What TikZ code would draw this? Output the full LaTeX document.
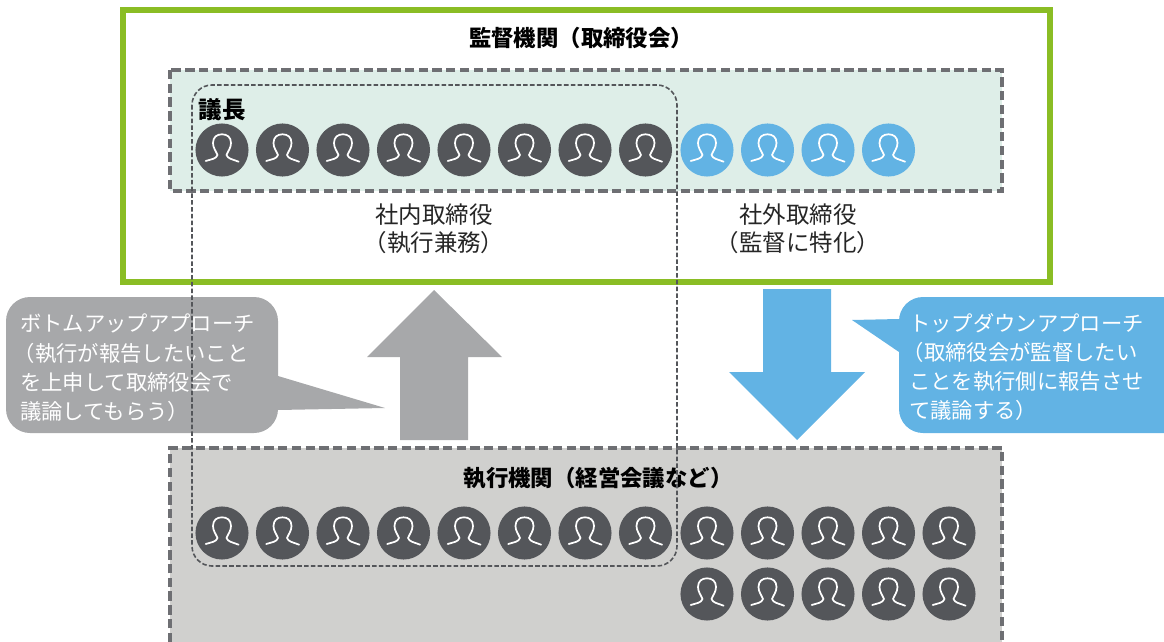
\documentclass[tikz,border=0pt]{standalone}
\usepackage{fontspec}
\setmainfont{Noto Sans CJK JP}
\definecolor{boardgreen}{HTML}{8ABD24}
\definecolor{boardfill}{HTML}{DEEEE8}
\definecolor{execfill}{HTML}{D0D0CE}
\definecolor{dashgray}{HTML}{54565A}
\definecolor{upgray}{HTML}{A7A8AA}
\definecolor{downblue}{HTML}{62B3E4}
\tikzset{
  dashbox/.style={draw=dashgray!85, line width=2.4pt, dash pattern=on 7pt off 3.3pt},
  darkhead/.style={circle, fill=dashgray, minimum size=39.8pt, inner sep=0pt},
  bluehead/.style={darkhead, fill=downblue},
  silhouette/.pic={
    \draw[white, line width=1.3pt, line cap=round, line join=round]
      (-16.3,11) .. controls (-10,9) and (-6,9) .. (-4.5,5)
      .. controls (-6,1) and (-9,-2) .. (-9,-7)
      .. controls (-9,-13) and (-5,-15.7) .. (0,-15.7)
      .. controls (5,-15.7) and (9,-13) .. (9,-7)
      .. controls (9,-2) and (6,1) .. (4.5,5)
      .. controls (6,9) and (10,9) .. (16.6,11.7);
  },
  heading/.style={font=\fontsize{16.8}{20}\selectfont\bfseries, inner sep=0pt},
  caption/.style={font=\fontsize{17.6}{21}\selectfont, align=center, inner sep=0pt, text=black!85},
  calloutext/.style={font=\fontsize{16}{21.8}\selectfont, align=left, text=white, inner sep=0pt, anchor=north west},
}
\begin{document}
\begin{tikzpicture}[x=0.75pt, y=-0.75pt]
  \useasboundingbox (0,0) rectangle (1164,642);
  % boxes
  \draw[boardgreen, line width=4.5pt, fill=white] (123,10) rectangle (1050,282);
  \fill[boardfill] (170,70) rectangle (1002,191);
  \draw[dashbox] (170,70) rectangle (1002,191);
  \fill[execfill] (170,448) rectangle (1002,642);
  \draw[dashbox] (170,642) -- (170,448) -- (1002,448) -- (1002,642);
  % arrows
  \fill[upgray] (434,290) -- (502,357) -- (468,357) -- (468,440) -- (400,440) -- (400,357) -- (367,357) -- cycle;
  \fill[downblue] (763,289) -- (831,289) -- (831,372) -- (865,372) -- (797,440) -- (729,372) -- (763,372) -- cycle;
  % callouts
  \fill[upgray, rounded corners=18pt] (6,297) rectangle (278,433);
  \fill[upgray] (278,376) -- (385,408) -- (278,410) -- cycle;
  \fill[downblue, rounded corners=18pt] (899,297) rectangle (1190,433);
  \fill[downblue] (899,319) -- (852,320) -- (899,352) -- cycle;
  \node[calloutext] (bottomup) at (20,314) {ボトムアップアプローチ\\\hspace*{-0.3em}（執行が報告したいこと\\を上申して取締役会で\\議論してもらう）};
  \node[calloutext] (topdown) at (909,313) {トップダウンアプローチ\\\hspace*{-0.3em}（取締役会が監督したい\\ことを執行側に報告させ\\て議論する）};
  % labels
  \node[heading] (board) at (581,38) {監督機関（取締役会）};
  \node[heading, text=black, font=\fontsize{17.6}{20}\selectfont\bfseries] (chair) at (222,110) {議長};
  \node[heading] (exec) at (598,478) {執行機関（経営会議など）};
  \node[caption] (inside) at (434,228.5) {社内取締役\\（執行兼務）};
  \node[caption] (outside) at (798,228.5) {社外取締役\\（監督に特化）};
  % people
  \foreach \i in {0,...,7} {
    \node[darkhead] (top\i) at ({222+60.5*\i},150) {};
    \pic at (top\i) {silhouette};
    \node[darkhead] (low\i) at ({222+60.5*\i},533) {};
    \pic at (low\i) {silhouette};
  }
  \foreach \i in {0,...,3} {
    \node[bluehead] (out\i) at ({707+60.5*\i},150) {};
    \pic at (out\i) {silhouette};
  }
  \foreach \i in {0,...,4} {
    \node[darkhead] (row\i) at ({707+60.5*\i},533) {};
    \pic at (row\i) {silhouette};
    \node[darkhead] (last\i) at ({707+60.5*\i},594) {};
    \pic at (last\i) {silhouette};
  }
  % directors who also execute
  \draw[dashgray, line width=1.2pt, dash pattern=on 3.4pt off 1.7pt, rounded corners=15pt] (192,85) rectangle (677,566);
\end{tikzpicture}
\end{document}
